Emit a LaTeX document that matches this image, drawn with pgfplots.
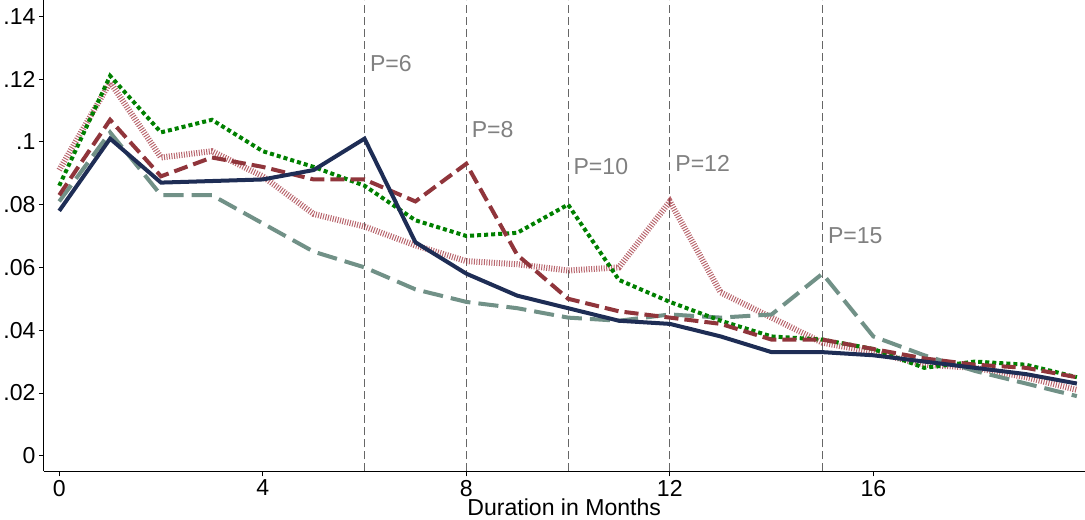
\documentclass[border=0pt]{standalone}
\usepackage{fontspec}
\setmainfont{Liberation Sans}
\usepackage{pgfplots}
\pgfplotsset{compat=1.18}
\begin{document}
\begin{tikzpicture}[x=1bp,y=1bp]
\begin{axis}[
  scale only axis, width=1034bp, height=468bp,
  xmin=-0.3, xmax=20.15, ymin=-0.005, ymax=0.145,
  axis lines*=left, axis line style={line width=1pt},
  xtick={0,4,8,12,16}, ytick={0,0.02,0.04,0.06,0.08,0.1,0.12,0.14},
  yticklabels={0,.02,.04,.06,.08,.1,.12,.14},
  tick align=outside, tick style={black,line width=0.8pt},
  major tick length=5bp,
  ticklabel style={font=\fontsize{23}{23}\selectfont},
  /pgf/number format/assume math mode=true,
  xlabel={Duration in Months}, xlabel style={font=\fontsize{23}{23}\selectfont, yshift=4bp},
  clip=false,
]
\foreach \p/\ll/\yy in {6/P=6/0.125, 8/P=8/0.104, 10/P=10/0.092, 12/P=12/0.093, 15/P=15/0.070}{
  \edef\tmp{\noexpand\draw[gray!80!black, dashed, line width=1pt, dash pattern=on 8bp off 4bp] (axis cs:\p,-0.005) -- (axis cs:\p,0.145);
  \noexpand\node[anchor=west, gray, xshift=2bp, font=\noexpand\fontsize{23}{23}\noexpand\selectfont] at (axis cs:\p,\yy) {\ll};}
  \tmp
}
\addplot[color={rgb,255:red,160;green,50;blue,60}, line width=6pt, dash pattern=on 1pt off 1.5pt, opacity=0.75] coordinates {(0,.091)(1,.119)(2,.095)(3,.097)(4,.089)(5,.077)(6,.073)(7,.067)(8,.062)(9,.061)(10,.059)(11,.060)(12,.081)(13,.052)(14,.044)(15,.036)(16,.033)(17,.029)(18,.028)(19,.025)(20,.021)};
\addplot[color={rgb,255:red,113;green,145;blue,135}, line width=4pt, dash pattern=on 20bp off 8bp] coordinates {(0,.081)(1,.103)(2,.083)(3,.083)(4,.074)(5,.065)(6,.060)(7,.053)(8,.049)(9,.047)(10,.044)(11,.043)(12,.045)(13,.044)(14,.045)(15,.058)(16,.038)(17,.032)(18,.027)(19,.023)(20,.019)};
\addplot[color={rgb,255:red,0;green,128;blue,0}, line width=4pt, dash pattern=on 4bp off 3bp] coordinates {(0,.086)(1,.121)(2,.103)(3,.107)(4,.097)(5,.092)(6,.086)(7,.075)(8,.070)(9,.071)(10,.080)(11,.056)(12,.049)(13,.043)(14,.038)(15,.037)(16,.034)(17,.028)(18,.030)(19,.029)(20,.025)};
\addplot[color={rgb,255:red,144;green,53;blue,59}, line width=4pt, dash pattern=on 14bp off 6bp] coordinates {(0,.083)(1,.107)(2,.089)(3,.095)(4,.092)(5,.088)(6,.088)(7,.081)(8,.093)(9,.064)(10,.050)(11,.046)(12,.044)(13,.042)(14,.037)(15,.037)(16,.034)(17,.031)(18,.029)(19,.028)(20,.025)};
\addplot[color={rgb,255:red,30;green,45;blue,85}, line width=4pt] coordinates {(0,.078)(1,.101)(2,.087)(3,.0875)(4,.088)(5,.091)(6,.101)(7,.068)(8,.058)(9,.051)(10,.047)(11,.043)(12,.042)(13,.038)(14,.033)(15,.033)(16,.032)(17,.030)(18,.028)(19,.026)(20,.023)};
\end{axis}
\end{tikzpicture}
\end{document}
